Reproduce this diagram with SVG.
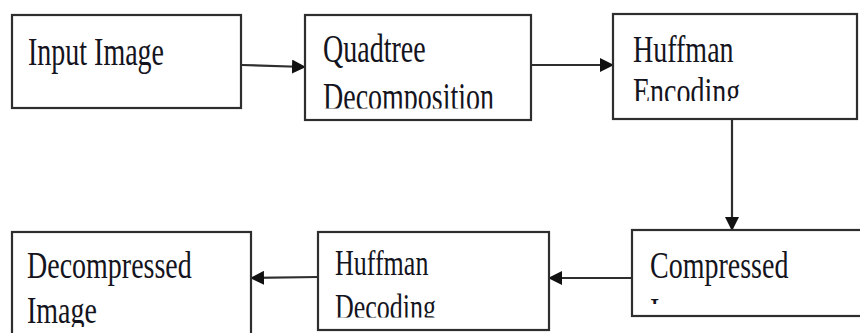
<svg xmlns="http://www.w3.org/2000/svg" width="860" height="333" viewBox="0 0 860 333">
<style>
.box{fill:#fff;stroke:#2e2e2e;stroke-width:2.2}
.lbl{font-family:"Liberation Serif","Times New Roman",serif;font-size:28px;fill:#141420}
.sm{font-size:26px}
.con{stroke:#2e2e2e;stroke-width:2.2;fill:none}
</style>
<defs>
<marker id="ah" viewBox="0 0 14 14" refX="13" refY="7" markerWidth="14" markerHeight="14" markerUnits="userSpaceOnUse" orient="auto">
<path d="M0,0 L14,7 L0,14 Z" fill="#111"/>
</marker>
<clipPath id="c2"><rect x="300" y="70" width="240" height="38.5"/></clipPath>
<clipPath id="c3"><rect x="610" y="70" width="250" height="31"/></clipPath>
<clipPath id="c4"><rect x="10" y="285" width="245" height="42"/></clipPath>
<clipPath id="c5"><rect x="315" y="285" width="240" height="32.5"/></clipPath>
<clipPath id="c6"><rect x="640" y="285" width="30" height="19"/></clipPath>
</defs>
<rect width="860" height="333" fill="#fff"/>
<g id="connectors">
<line class="con" x1="242" y1="65" x2="305" y2="67" marker-end="url(#ah)"/>
<line class="con" x1="532" y1="65" x2="613" y2="65" marker-end="url(#ah)"/>
<line class="con" x1="732" y1="120" x2="732" y2="230" marker-end="url(#ah)"/>
<line class="con" x1="632" y1="278" x2="549" y2="278" marker-end="url(#ah)"/>
<line class="con" x1="318" y1="277" x2="251" y2="278" marker-end="url(#ah)"/>
</g>
<g id="input-image">
<rect class="box" x="12" y="15" width="229" height="93"/>
<text class="lbl" transform="translate(28,65) scale(1,1.42)">Input Image</text>
</g>
<g id="quadtree">
<rect class="box" x="305" y="15" width="226" height="105"/>
<text class="lbl" transform="translate(323,62) scale(1,1.42)">Quadtree</text>
<g clip-path="url(#c2)"><text class="lbl" transform="translate(323,109.5) scale(1,1.42)">Decomposition</text></g>
</g>
<g id="huffman-encoding">
<rect class="box" x="613" y="14" width="244" height="105"/>
<text class="lbl" transform="translate(633,62) scale(1,1.38)">Huffman</text>
<g clip-path="url(#c3)"><text class="lbl" transform="translate(633,104) scale(1,1.38)">Encoding</text></g>
</g>
<g id="compressed">
<rect class="box" x="632" y="230" width="240" height="86"/>
<text class="lbl" transform="translate(650,278) scale(1,1.38)">Compressed</text>
<g clip-path="url(#c6)"><text class="lbl" transform="translate(650,324) scale(1,1.38)">Image</text></g>
</g>
<g id="huffman-decoding">
<rect class="box" x="318" y="232" width="231" height="98"/>
<text class="lbl sm" transform="translate(335,275) scale(1,1.38)">Huffman</text>
<g clip-path="url(#c5)"><text class="lbl sm" transform="translate(335,318.5) scale(1,1.38)">Decoding</text></g>
</g>
<g id="decompressed-image">
<rect class="box" x="12" y="232" width="239" height="110"/>
<text class="lbl" transform="translate(27,278) scale(1,1.38)">Decompressed</text>
<g clip-path="url(#c4)"><text class="lbl" transform="translate(27,323) scale(1,1.38)">Image</text></g>
</g>
</svg>
